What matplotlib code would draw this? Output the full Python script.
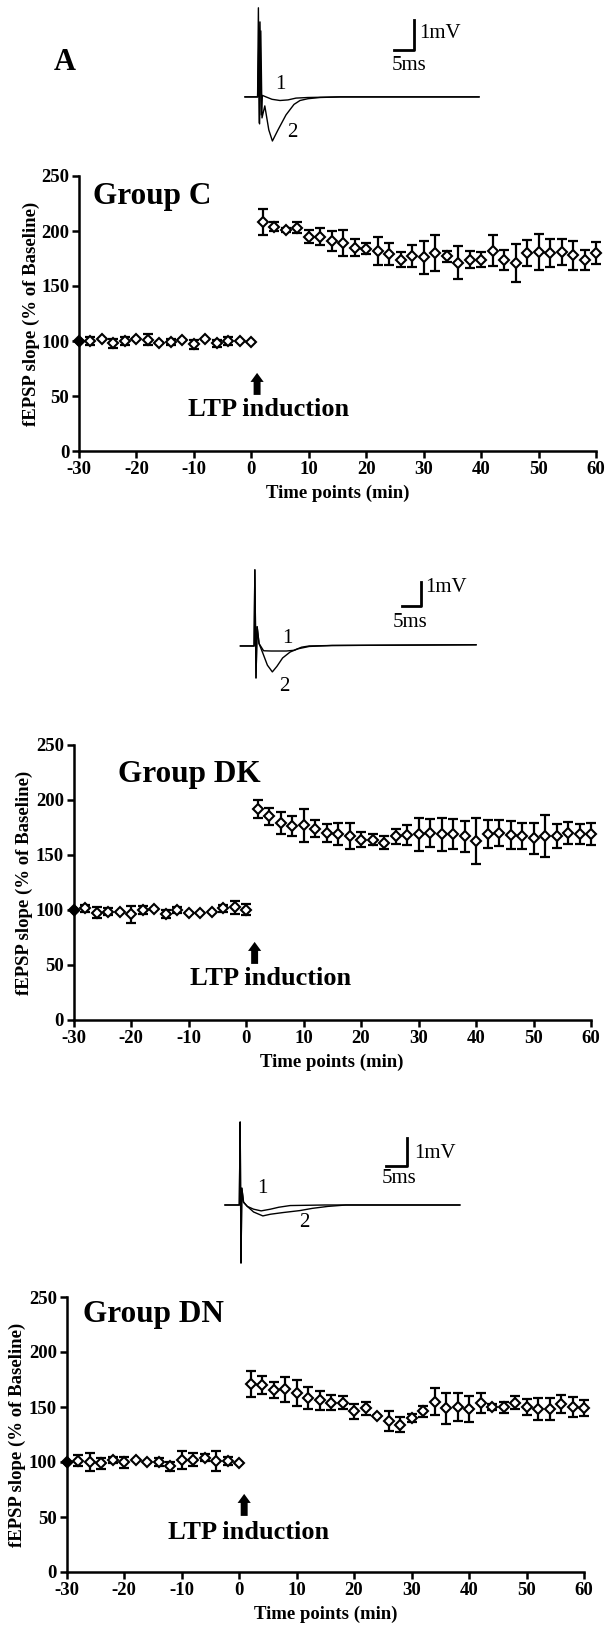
import matplotlib
matplotlib.use("Agg")
import matplotlib.pyplot as plt

plt.rcParams['font.family'] = ['Liberation Serif', 'DejaVu Serif']
plt.rcParams['axes.unicode_minus'] = False

# time points (min)
base_times = list(range(-30, 1, 2))
post_times = list(range(2, 61, 2))

# Group C
c_base = [100, 100, 102, 98, 100, 102, 101, 98, 99, 101, 97, 102, 98, 100, 100, 99]
c_base_err = [0, 4, 0, 4, 4, 0, 5, 0, 3, 0, 4, 0, 3, 4, 0, 0]
c_post = [208, 204, 201, 203, 195, 195, 191, 189, 185, 184, 182, 179, 174, 177, 176,
          180, 177, 171, 174, 174, 182, 174, 171, 180, 181, 180, 181, 178, 174, 180]
c_post_err = [12, 4, 2, 5, 6, 8, 9, 12, 8, 5, 13, 10, 7, 10, 15,
              16, 5, 15, 8, 7, 14, 9, 17, 12, 16, 13, 12, 13, 9, 10]

# Group DK
dk_base = [100, 101.5, 97.6, 98.5, 98.5, 96, 100, 100.6, 96.4, 100, 97, 97.6, 98.5, 101.5, 102.4, 100]
dk_base_err = [0, 3, 5, 3, 0, 8, 4, 0, 4, 3, 0, 0, 0, 3, 6, 5]
dk_post = [192, 185, 179, 176, 177, 174, 170, 169, 167, 164, 164, 161, 167, 168, 169,
           170, 169, 169, 167, 163, 169, 170, 168, 167, 165, 167, 167, 170, 169, 169]
dk_post_err = [8, 8, 10, 9, 15, 8, 8, 10, 12, 7, 5, 6, 7, 9, 15,
               13, 15, 14, 14, 21, 13, 12, 13, 12, 14, 19, 11, 10, 9, 10]

# Group DN
dn_base = [100, 101, 100, 99, 102, 100, 102, 100, 100, 96, 102, 102, 104, 101, 101, 99]
dn_base_err = [0, 5, 8, 5, 3, 5, 0, 0, 4, 4, 8, 6, 3, 9, 4, 0]
dn_post = [171, 170, 165.5, 166, 163, 158, 156, 154, 154, 146, 149, 141.6, 137, 134, 140,
           146, 155, 149, 150, 148, 154, 150, 150, 154, 150, 148, 148, 153, 150, 149]
dn_post_err = [12, 8, 7, 11, 12, 10, 9, 7, 6, 7, 6, 0, 9, 7, 4,
               5, 12, 14, 13, 12, 9, 3, 5, 6, 7, 10, 10, 8, 9, 7]

# inset sweeps (ms, mV), 1 = before, 2 = after LTP induction
c_tr1_t = [-3.75, -0.6, -0.4, -0.2, 0.0, 0.3, 0.6, 1.5, 3, 5, 7, 9, 12, 20, 54.75]
c_tr1_v = [0, 0, 2.97, -0.87, 2.5, -0.6, 0.05, 0.0, -0.08, -0.12, -0.1, -0.04, -0.02, 0, 0]
c_tr2_t = [-3.75, -0.6, -0.3, -0.1, 0.2, 0.5, 1.2, 2.2, 3.1, 4.5, 6.5, 8.5, 10, 12, 15, 20, 54.75]
c_tr2_v = [0, 0, 1.8, -0.9, 2.2, -0.7, -0.3, -1.1, -1.47, -1.1, -0.6, -0.25, -0.12, -0.06, -0.02, 0, 0]

dk_tr1_t = [-4.1, -0.5, -0.3, 0, 0.3, 0.8, 2, 4, 6, 8, 10, 12, 14, 20, 30, 57.9]
dk_tr1_v = [0, 0, 3.17, -1.33, 0.8, 0.1, -0.2, -0.21, -0.21, -0.21, -0.18, -0.05, 0.0, 0.02, 0.03, 0.05]
dk_tr2_t = [-4.1, -0.5, -0.3, 0, 0.3, 0.8, 1.8, 3, 4.3, 5.5, 7, 9, 11, 14, 20, 57.9]
dk_tr2_v = [0, 0, 3.17, -1.33, 0.8, 0.1, -0.3, -0.8, -1.08, -0.85, -0.5, -0.25, -0.12, -0.02, 0.02, 0.05]

dn_tr1_t = [-3.8, -0.4, -0.2, 0, 0.2, 0.6, 1.5, 3, 4.8, 7, 9, 11.7, 20, 52.1]
dn_tr1_v = [0, 0, 2.96, -2.07, 0.6, 0.1, -0.05, -0.15, -0.21, -0.15, -0.08, -0.02, 0, 0]
dn_tr2_t = [-3.8, -0.4, -0.2, 0, 0.2, 0.6, 1.5, 3, 5.2, 7, 10, 14, 17, 20.7, 25, 52.1]
dn_tr2_v = [0, 0, 2.96, -2.07, 0.6, 0.1, -0.05, -0.25, -0.39, -0.33, -0.27, -0.2, -0.12, -0.05, 0, 0]

W, H = 606, 1629
fig = plt.figure(figsize=(W / 100, H / 100), dpi=100)


def px_axes(left, top, right, bottom):
    return fig.add_axes([left / W, 1 - bottom / H, (right - left) / W, (bottom - top) / H])


def draw_panel(ax, base, base_err, post, post_err, name, name_xy, ltp_xy, arrow_x, ylab_x):
    times = base_times + post_times
    vals = base + post
    errs = base_err + post_err
    ax.errorbar(times, vals, yerr=errs, fmt='none', ecolor='black', elinewidth=1.6,
                capsize=3.5, capthick=1.6, clip_on=False, zorder=2)
    ax.plot(times, vals, linestyle='none', marker='D', markersize=5.5, markerfacecolor='white',
            markeredgecolor='black', markeredgewidth=1.5, clip_on=False, zorder=3)
    ax.plot(times[0], vals[0], linestyle='none', marker='D', markersize=5.5, color='black',
            clip_on=False, zorder=4)
    ax.set_xlim(-30, 60)
    ax.set_ylim(0, 250)
    ax.set_xticks(range(-30, 61, 10))
    ax.set_yticks(range(0, 251, 50))
    for s in ['top', 'right']:
        ax.spines[s].set_visible(False)
    for s in ['left', 'bottom']:
        ax.spines[s].set_linewidth(1.8)
    ax.tick_params(width=1.8, length=5, labelsize=13.5, pad=2)
    for lab in ax.get_xticklabels() + ax.get_yticklabels():
        lab.set_fontweight('bold')
    ax.set_xlabel('Time points (min)', fontsize=13.5, fontweight='bold')
    ax.set_ylabel('fEPSP slope (% of Baseline)', fontsize=13.5, fontweight='bold')
    ax.xaxis.set_label_coords(0.5, -0.122)
    ax.yaxis.set_label_coords(ylab_x, 0.5)
    ax.text(name_xy[0], name_xy[1], name, fontsize=22.5, fontweight='bold', va='center', ha='left')
    ax.text(ltp_xy[0], ltp_xy[1], 'LTP induction', fontsize=19, fontweight='bold',
            va='center', ha='center')
    ax.annotate('', xy=(arrow_x, 71), xytext=(arrow_x, 51),
                arrowprops=dict(arrowstyle='simple,head_width=0.95,head_length=0.65,tail_width=0.5',
                                color='black', lw=0, shrinkA=0, shrinkB=0, mutation_scale=10))


def draw_inset(ax, t1, v1, t2, v2, xlim, ylim, bar_t, bar_v, bar_w, mv_xy, ms_xy, n1_xy, n2_xy):
    ax.plot(t1, v1, color='black', lw=1.0)
    ax.plot(t2, v2, color='black', lw=1.0)
    ax.plot([bar_t - bar_w, bar_t, bar_t], [bar_v, bar_v, bar_v + 1], color='black', lw=2)
    ax.text(mv_xy[0], mv_xy[1], '1mV', fontsize=15, ha='left', va='center')
    ax.text(ms_xy[0], ms_xy[1], '5ms', fontsize=15, ha='center', va='center')
    ax.text(n1_xy[0], n1_xy[1], '1', fontsize=15, ha='center', va='center')
    ax.text(n2_xy[0], n2_xy[1], '2', fontsize=15, ha='center', va='center')
    ax.set_xlim(xlim)
    ax.set_ylim(ylim)
    ax.axis('off')


# panel 1 (Group C)
ins1 = px_axes(240, 0, 488, 150)
draw_inset(ins1, c_tr1_t, c_tr1_v, c_tr2_t, c_tr2_v, (-5, 57), (-1.77, 3.23),
           38.5, 1.57, 5, (39.75, 2.13), (37.3, 1.03), (5, 0.4), (8, -1.2))
fig.text(64.5 / W, 1 - 63 / H, 'A', fontsize=22, fontweight='bold', ha='center', va='center')
ax1 = px_axes(79, 176, 596, 451)
draw_panel(ax1, c_base, c_base_err, c_post, c_post_err, 'Group C', (-27.6, 231), (3.0, 38), 1,
           -0.076)

# panel 2 (Group DK)
ins2 = px_axes(237, 560, 484, 700)
draw_inset(ins2, dk_tr1_t, dk_tr1_v, dk_tr2_t, dk_tr2_v, (-5, 60), (-2.25, 3.58),
           43.4, 1.67, 5, (44.6, 2.42), (40.5, 0.96), (8.2, 0.33), (7.4, -1.7))
ax2 = px_axes(73.5, 745, 591, 1020)
draw_panel(ax2, dk_base, dk_base_err, dk_post, dk_post_err, 'Group DK', (-22.3, 223), (4.3, 38), 1.5,
           -0.078)

# panel 3 (Group DN)
ins3 = px_axes(220, 1110, 472, 1270)
draw_inset(ins3, dn_tr1_t, dn_tr1_v, dn_tr2_t, dn_tr2_v, (-5, 55), (-2.32, 3.39),
           39.5, 1.39, 5, (41.3, 1.82), (37.6, 0.96), (5.1, 0.6), (15, -0.64))
ax3 = px_axes(66.5, 1297, 584, 1572)
draw_panel(ax3, dn_base, dn_base_err, dn_post, dn_post_err, 'Group DN', (-27.2, 234), (1.7, 36), 0.9,
           -0.078)

fig.savefig('out.png', dpi=100, facecolor='white')
